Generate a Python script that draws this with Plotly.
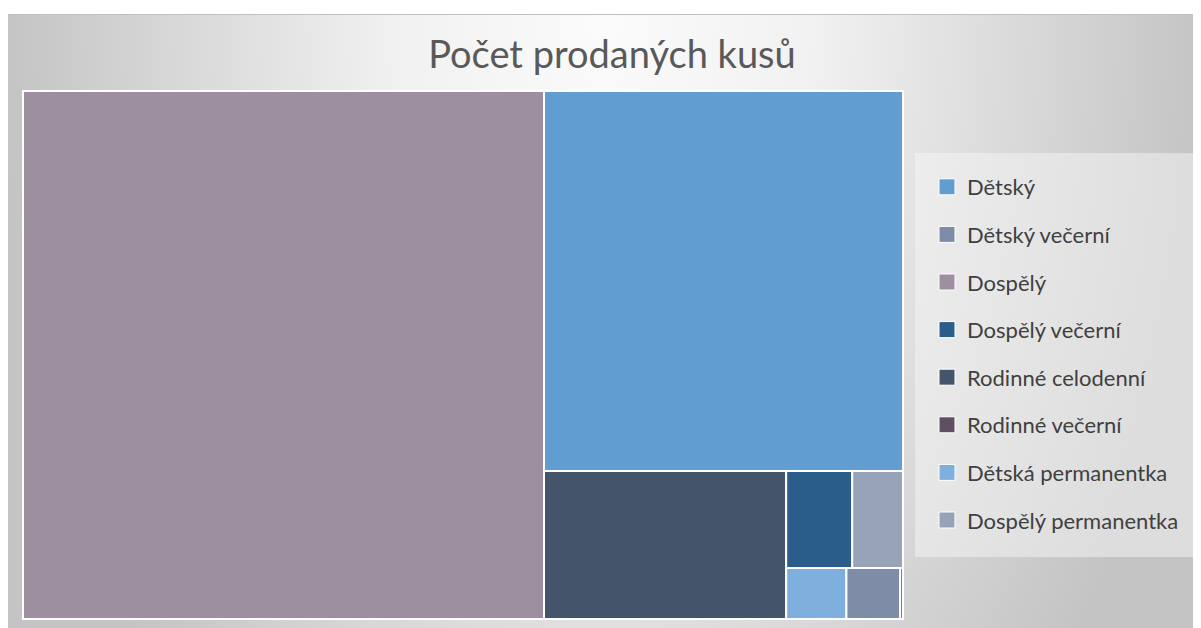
import base64
import plotly.graph_objects as go

# the page places the figure 8px from the top-left corner of the window
OX, OY = 8, 8
W, H = 1201 - OX, 628 - OY

# ---- data ----
categories = ["Dětský", "Dětský večerní", "Dospělý", "Dospělý večerní",
              "Rodinné celodenní", "Rodinné večerní", "Dětská permanentka",
              "Dospělý permanentka"]
values = [2936, 59, 5920, 138, 771, 3, 66, 106]
colors = ["#619DD1", "#7F8CA8", "#9E8FA0", "#2B5D8B",
          "#44546A", "#5E4F62", "#7FAFDC", "#97A3B9"]
title_text = "Počet prodaných kusů"

# ---- background gradient (SVG data URI) ----
svg = '''<svg xmlns="http://www.w3.org/2000/svg" width="1193" height="614" viewBox="0 0 1193 614" preserveAspectRatio="none">
<defs><radialGradient id="g" gradientUnits="userSpaceOnUse" cx="0" cy="0" r="1"
 gradientTransform="translate(597 0) scale(600 990)">
<stop offset="0" stop-color="#fbfbfb"/><stop offset="0.35" stop-color="#f1f1f1"/>
<stop offset="1" stop-color="#c4c4c4"/></radialGradient></defs>
<rect x="0" y="0" width="1193" height="614" fill="url(#g)"/>
<line x1="0" y1="0.5" x2="1193" y2="0.5" stroke="#c0c0c0" stroke-width="1"/>
</svg>'''
bg_src = "data:image/svg+xml;base64," + base64.b64encode(svg.encode("utf-8")).decode()


def px(sx):
    return (sx - OX) / W


def py(sy):
    return 1 - (sy - OY) / H


fig = go.Figure()

fig.add_trace(go.Treemap(
    labels=categories,
    parents=[""] * len(categories),
    values=values,
    marker=dict(colors=colors, line=dict(color="white", width=2),
                pad=dict(t=0, l=0, r=0, b=0)),
    textinfo="none",
    hoverinfo="label+value",
    sort=True,
    tiling=dict(packing="squarify", squarifyratio=1, pad=0),
    pathbar=dict(visible=False),
    root=dict(color="rgba(0,0,0,0)"),
    domain=dict(x=[px(23), px(903)], y=[py(619), py(91)]),
))

# legend entries
for name, col in zip(categories, colors):
    fig.add_trace(go.Scatter(
        x=[None], y=[None], mode="markers", name=name,
        legendgroup=name,
        marker=dict(symbol="square", size=16, color=col,
                    line=dict(color="white", width=1)),
        showlegend=True,
    ))

fig.update_layout(
    width=W, height=H,
    margin=dict(l=0, r=0, t=0, b=0),
    paper_bgcolor="white",
    plot_bgcolor="rgba(0,0,0,0)",
    xaxis=dict(visible=False, domain=[0.9, 0.91]),
    yaxis=dict(visible=False, domain=[0.9, 0.91]),
    title=dict(text=title_text, x=px(612), xanchor="center",
               y=py(55), yanchor="middle",
               font=dict(family="Lato", size=38, color="#595959")),
    legend=dict(x=px(927), y=py(166), xanchor="left", yanchor="top",
                bgcolor="rgba(0,0,0,0)", borderwidth=0,
                font=dict(family="Lato", size=22, color="#404040"),
                tracegroupgap=16, itemclick=False, itemdoubleclick=False),
    images=[dict(source=bg_src, xref="paper", yref="paper",
                 x=px(8), y=py(14), sizex=1193 / W, sizey=614 / H,
                 xanchor="left", yanchor="top", sizing="stretch",
                 layer="below")],
    shapes=[dict(type="rect", xref="paper", yref="paper",
                 x0=px(915), x1=px(1198), y0=py(557), y1=py(153),
                 fillcolor="rgba(245,245,245,0.5)", line=dict(width=0),
                 layer="below")],
)

fig.write_html("out.html")
